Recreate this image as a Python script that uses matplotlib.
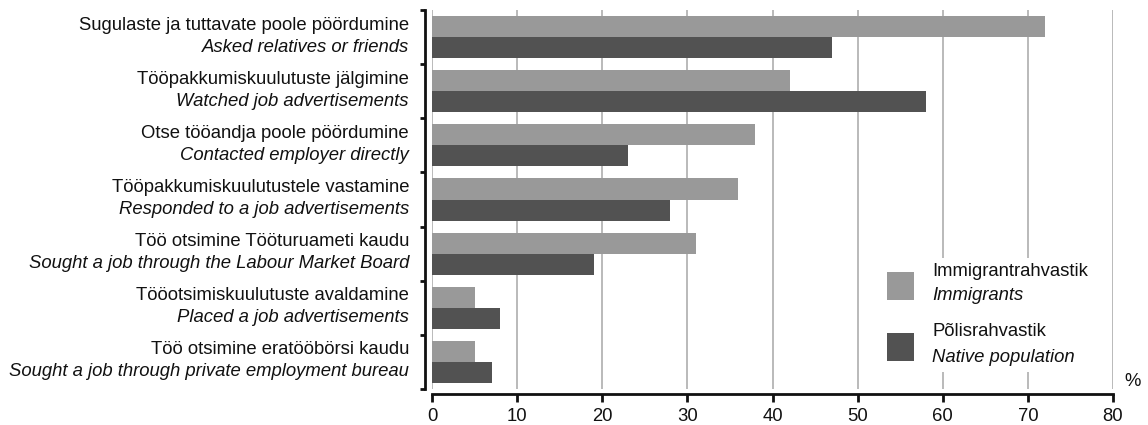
import matplotlib
matplotlib.use("Agg")
import matplotlib.pyplot as plt
import numpy as np
from matplotlib.patches import Rectangle

plt.rcParams['font.family'] = ['Liberation Sans', 'DejaVu Sans']

labels_et = [
    "Sugulaste ja tuttavate poole pöördumine",
    "Tööpakkumiskuulutuste jälgimine",
    "Otse tööandja poole pöördumine",
    "Tööpakkumiskuulutustele vastamine",
    "Töö otsimine Tööturuameti kaudu",
    "Tööotsimiskuulutuste avaldamine",
    "Töö otsimine eratööbörsi kaudu",
]
labels_en = [
    "Asked relatives or friends",
    "Watched job advertisements",
    "Contacted employer directly",
    "Responded to a job advertisements",
    "Sought a job through the Labour Market Board",
    "Placed a job advertisements",
    "Sought a job through private employment bureau",
]
series_et = ["Immigrantrahvastik", "Põlisrahvastik"]
series_en = ["Immigrants", "Native population"]
immigrants = [72, 42, 38, 36, 31, 5, 5]
natives = [47, 58, 23, 28, 19, 8, 7]
x_ticks = [0, 10, 20, 30, 40, 50, 60, 70, 80]

c_imm = "#999999"
c_nat = "#525252"
ink = "#111111"
fs = 13.3

W, H = 1148, 425
fig = plt.figure(figsize=(W / 100, H / 100), dpi=100)
ax = fig.add_axes([432 / W, 1 - 389 / H, (1113 - 432) / W, (389 - 10) / H])

n = len(immigrants)
pos = np.arange(n)
bh = 0.39
ax.barh(pos - bh / 2, immigrants, height=bh, color=c_imm, zorder=3)
ax.barh(pos + bh / 2, natives, height=bh, color=c_nat, zorder=3)

ax.set_xlim(0, 80)
ax.set_ylim(n - 0.5, -0.5)
ax.set_xticks(x_ticks)
ax.set_xticklabels([str(v) for v in x_ticks])
for v in x_ticks:
    ax.axvline(v, color="#aeaeae", lw=1.2, zorder=1)

# category separators on the left spine
ax.set_yticks(np.arange(n + 1) - 0.5)
ax.set_yticklabels([])
ax.tick_params(axis='y', direction='out', length=3.6, width=2, color=ink)
ax.tick_params(axis='x', direction='out', length=6, width=2, color=ink, pad=4,
               labelsize=fs, labelcolor=ink)

for s in ['top', 'right']:
    ax.spines[s].set_visible(False)
ax.spines['left'].set_position(('outward', 5))
ax.spines['left'].set_linewidth(2)
ax.spines['left'].set_color(ink)
ax.spines['bottom'].set_position(('outward', 3.6))
ax.spines['bottom'].set_linewidth(2)
ax.spines['bottom'].set_color(ink)

for i in range(n):
    ax.annotate(labels_et[i], xy=(0, i), xycoords=('axes fraction', 'data'),
                xytext=(-23, 12), textcoords='offset pixels',
                ha='right', va='center', fontsize=fs, color=ink)
    ax.annotate(labels_en[i], xy=(0, i), xycoords=('axes fraction', 'data'),
                xytext=(-23, -10), textcoords='offset pixels',
                ha='right', va='center', fontsize=fs, style='italic', color=ink)

# legend: white panel over the grid, swatches and two-line labels
to_ax = lambda px, py: ((px - 432) / (1113 - 432), (389 - py) / (389 - 10))
x0, y0 = to_ax(868, 372)
x1, y1 = to_ax(1102, 258)
ax.add_patch(Rectangle((x0, y0), x1 - x0, y1 - y0, transform=ax.transAxes,
                       facecolor='white', edgecolor='none', zorder=4))
for k, (col, top) in enumerate([(c_imm, 272), (c_nat, 333)]):
    sx, sy = to_ax(887, top + 28)
    sx2, sy2 = to_ax(914, top)
    ax.add_patch(Rectangle((sx, sy), sx2 - sx, sy2 - sy, transform=ax.transAxes,
                           facecolor=col, edgecolor='none', zorder=5))
    tx, ty = to_ax(932, top - 1)
    ax.text(tx, ty, series_et[k], transform=ax.transAxes, ha='left', va='center',
            fontsize=fs, color=ink, zorder=6)
    tx, ty = to_ax(932, top + 24)
    ax.text(tx, ty, series_en[k], transform=ax.transAxes, ha='left', va='center',
            fontsize=fs, style='italic', color=ink, zorder=6)

fig.text(1133 / W, 1 - 382 / H, "%", ha='center', va='center', fontsize=fs, color=ink)

fig.savefig("out.png", dpi=100)
